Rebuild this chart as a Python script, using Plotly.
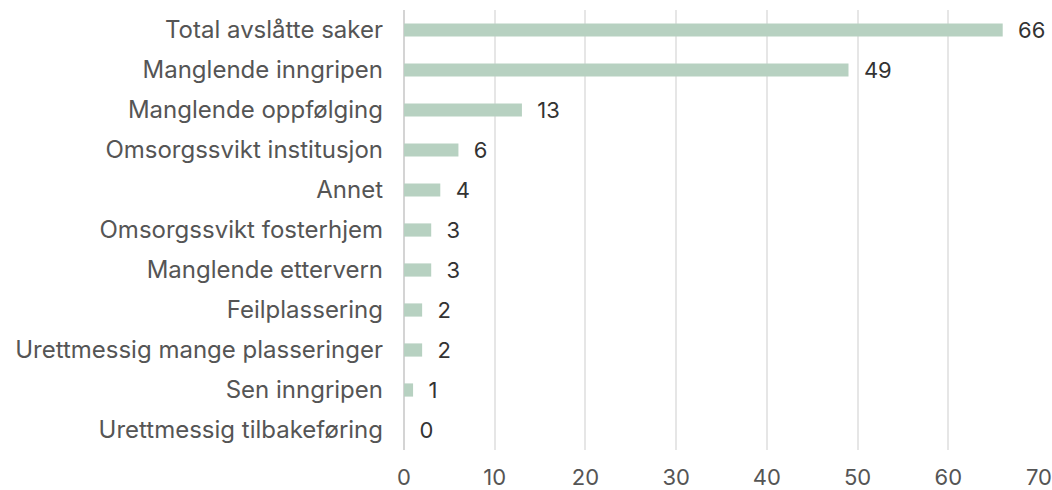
import plotly.graph_objects as go

categories = [
    "Total avslåtte saker",
    "Manglende inngripen",
    "Manglende oppfølging",
    "Omsorgssvikt institusjon",
    "Annet",
    "Omsorgssvikt fosterhjem",
    "Manglende ettervern",
    "Feilplassering",
    "Urettmessig mange plasseringer",
    "Sen inngripen",
    "Urettmessig tilbakeføring",
]
values = [66, 49, 13, 6, 4, 3, 3, 2, 2, 1, 0]
x_ticks = [0, 10, 20, 30, 40, 50, 60, 70]

FONT = "Inter, sans-serif"
FS = 24
NFS = 22

fig = go.Figure(
    go.Bar(
        y=categories,
        x=values,
        orientation="h",
        marker=dict(color="#b7d1c1", line=dict(width=0)),
        text=values,
        texttemplate="  %{x}",
        textposition="outside",
        constraintext="none",
        textfont=dict(family=FONT, size=NFS, color="#333333"),
        cliponaxis=False,
        width=0.33,
    )
)

fig.update_layout(
    width=1052,
    height=490,
    margin=dict(l=404, r=13, t=10, b=40, autoexpand=False),
    paper_bgcolor="white",
    plot_bgcolor="white",
    font=dict(family=FONT, size=FS, color="#555555"),
    showlegend=False,
    uniformtext=dict(mode=False),
    xaxis=dict(
        range=[0, 70],
        tickvals=x_ticks,
        showgrid=True,
        gridcolor="#e6e6e6",
        gridwidth=2,
        zeroline=True,
        zerolinecolor="#d4d4d4",
        zerolinewidth=2,
        showline=False,
        automargin=False,
        ticklabeloverflow="allow",
        ticklabelstandoff=12,
        tickfont=dict(family=FONT, size=NFS, color="#555555"),
    ),
    yaxis=dict(
        categoryorder="array",
        categoryarray=categories,
        autorange="reversed",
        showgrid=False,
        showline=False,
        automargin=False,
        ticklabelstandoff=20,
        tickfont=dict(family=FONT, size=FS, color="#555555"),
    ),
)

fig.write_html(
    "out.html",
    config={"displayModeBar": False},
    post_script="document.body.style.margin='0';document.documentElement.style.overflow='hidden';document.body.style.overflow='hidden';",
)
